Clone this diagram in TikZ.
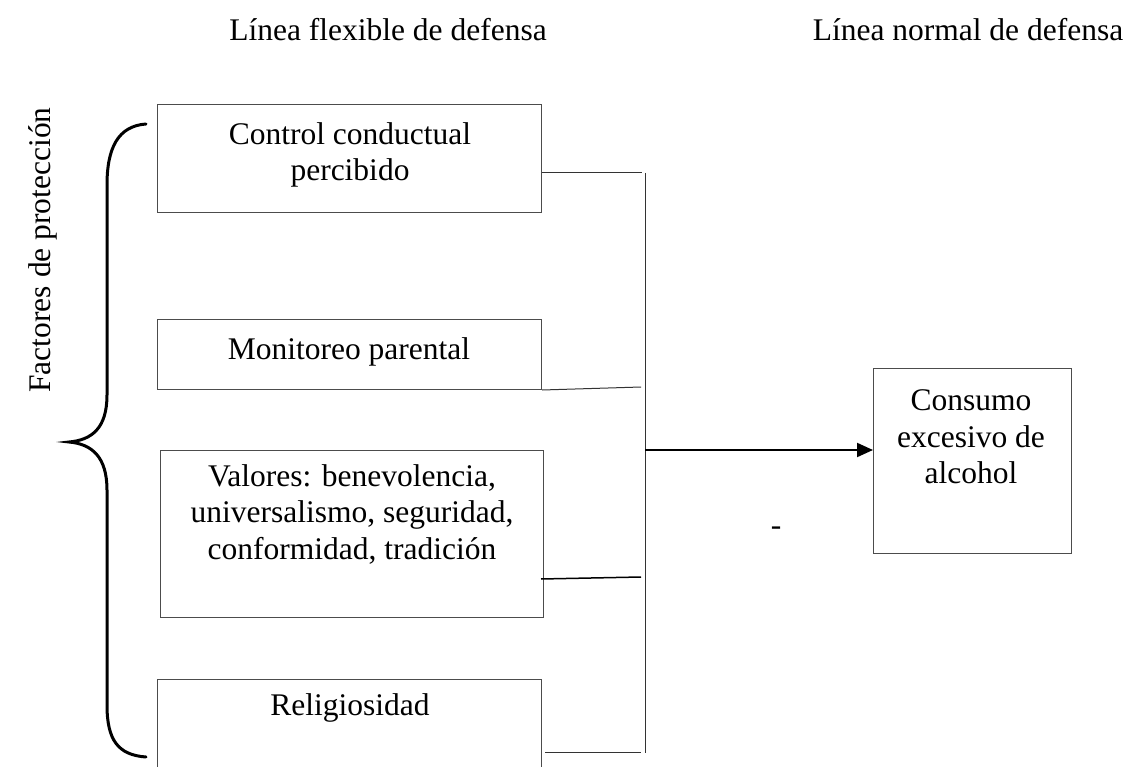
\documentclass[tikz,border=0pt]{standalone}
\usepackage{fontspec}
\setmainfont{Liberation Serif}
\usetikzlibrary{arrows.meta}
\begin{document}
\begin{tikzpicture}[x=1pt,y=-1pt,
  box/.style={draw=black!70,line width=1pt,inner sep=0pt,anchor=north west},
  txt/.style={align=center,inner sep=0pt,font=\fontsize{31.5}{36.5}\selectfont},
  conn/.style={draw=black!80,line width=1pt},
  arrowline/.style={draw=black,line width=2pt,-{Triangle[length=16pt,width=14pt]}},
  bracestyle/.style={draw=black,line width=3pt,line cap=round}]
\clip (0,0) rectangle (1129,767);
\fill[white] (0,0) rectangle (1129,767);
% titles
\node[txt] (h1) at (388,30) {Línea flexible de defensa};
\node[txt] (h2) at (968,30) {Línea normal de defensa};
\node[txt,rotate=90] (side) at (43,250) {Factores de protección};
% boxes
\node[box,minimum width=384pt,minimum height=108pt] (b1) at (157,104) {};
\node[box,minimum width=384pt,minimum height=70pt] (b2) at (157,319) {};
\node[box,minimum width=383pt,minimum height=167pt] (b3) at (160,450) {};
\node[box,minimum width=384pt,minimum height=120pt] (b4) at (157,679) {};
\node[box,minimum width=198pt,minimum height=185pt] (b5) at (873,368) {};
% texts
\node[txt] (t1) at (350,155) {Control conductual\\percibido};
\node[txt] (t2) at (349,352) {Monitoreo parental};
\node[txt] (t3) at (352,514) {Valores: benevolencia,\\universalismo, seguridad,\\conformidad, tradición};
\node[txt] (t4) at (350,708) {Religiosidad};
\node[txt] (t5) at (971,437) {Consumo\\excesivo de\\alcohol};
\node[txt] (minus) at (776,531) {-};
% bus
\coordinate (bt) at (645,173);
\coordinate (bb) at (645,753);
\coordinate (j1) at (642,173);
\coordinate (j2) at (641,387);
\coordinate (j3) at (641,577);
\coordinate (j4) at (641,752);
\coordinate (s3) at (541,579);
\coordinate (s4) at (545,752);
\coordinate (a0) at (645,450);
\draw[conn] (bt) -- (bb);
\draw[conn] (b1.east |- j1) -- (j1);
\draw[conn] (b2.south east) -- (j2);
\draw[conn,line width=1.5pt,draw=black] (s3) -- (j3);
\draw[conn] (s4) -- (j4);
\draw[arrowline] (a0) -- (b5.west |- a0);
% brace
\draw[bracestyle] (146,124) .. controls (118,126) and (107,148) .. (107,185)
  -- (107,395) .. controls (107,428) and (92,440) .. (69,442)
  .. controls (92,444) and (107,457) .. (107,490)
  -- (107,705) .. controls (107,740) and (118,755) .. (146,757);
\end{tikzpicture}
\end{document}
